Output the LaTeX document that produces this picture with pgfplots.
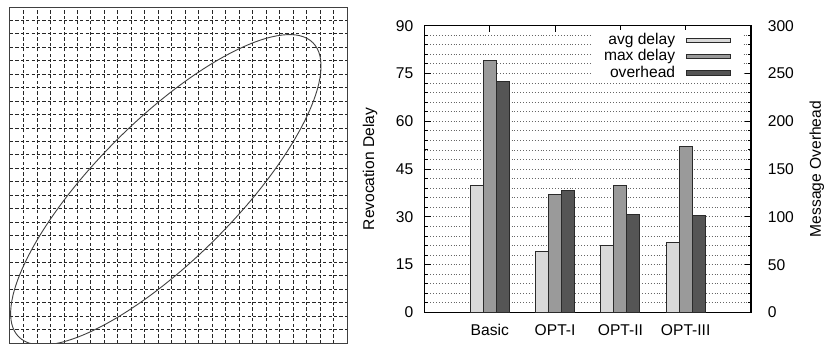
\documentclass[border=0pt]{standalone}
\usepackage{pgfplots}
\pgfplotsset{compat=1.18}
\usepackage{fontspec}
\setmainfont{Liberation Sans}
\newcommand\lfont{\fontsize{7.8}{9}\selectfont}
\definecolor{cavg}{HTML}{D9D9D9}
\definecolor{cmax}{HTML}{9A9A9A}
\definecolor{cov}{HTML}{555555}
\definecolor{cbord}{HTML}{2A2A2A}
\pgfplotsset{
  barimg/.style={legend image code/.code={\path (0pt,0pt); \draw[##1, line width=0.5pt] (5.2pt,-1.1pt) rectangle (27pt,1.1pt);}},
}
\begin{document}
\begin{tikzpicture}
% ---------- left: grid with ellipse ----------
\begin{axis}[
  at={(5pt,0.5pt)}, anchor=south west,
  scale only axis, width=168.5pt, height=168pt,
  xmin=0, xmax=25, ymin=0, ymax=25,
  xtick={1,2,...,24}, ytick={1,2,...,24},
  xticklabels={}, yticklabels={},
  major tick length=0pt,
  grid=major,
  grid style={black!85, line width=0.4pt, dash pattern=on 1.6pt off 1.1pt},
  axis line style={black!75, line width=0.5pt},
]
\draw[black!75, line width=0.45pt, rotate around={45:(axis cs:11.56,11.40)}]
  (axis cs:11.56,11.40) ellipse [x radius=15.43, y radius=5.2];
\end{axis}
% ---------- right: bar chart, delay axis ----------
\begin{axis}[
  at={(212.25pt,15.75pt)}, anchor=south west,
  scale only axis, width=163.25pt, height=143.4pt,
  xmin=0, xmax=5, ymin=0, ymax=90,
  xtick={1,2,3,4}, xticklabels={Basic,OPT-I,OPT-II,OPT-III},
  xtick pos=upper, xticklabel pos=lower,
  ytick={0,15,...,90}, minor y tick num=4,
  ytick pos=both, yticklabel pos=left,
  tick align=inside,
  major tick length=3pt, minor tick length=1.6pt,
  tick style={black, line width=0.5pt},
  ymajorgrids, yminorgrids,
  major grid style={black!60, line width=0.45pt, densely dotted},
  minor grid style={black!60, line width=0.45pt, densely dotted},
  axis line style={black, line width=0.6pt},
  /pgf/number format/assume math mode=true,
  tick label style={font=\lfont},
  yticklabel style={xshift=-2.1pt},
  xticklabel style={yshift=-2.4pt},
  ylabel={Revocation Delay},
  every axis y label/.style={at={(axis description cs:-0.167,0.5)}, rotate=90, anchor=center, font=\lfont},
]
\addplot[ybar, bar width=0.2, bar shift=-0.2, fill=cavg, draw=cbord, line width=0.5pt]
  coordinates {(1,40) (2,19) (3,21) (4,22)};
\addplot[ybar, bar width=0.2, bar shift=0, fill=cmax, draw=cbord, line width=0.5pt]
  coordinates {(1,79) (2,37) (3,40) (4,52)};
\end{axis}
% ---------- right: overhead axis ----------
\begin{axis}[
  at={(212.25pt,15.75pt)}, anchor=south west,
  scale only axis, width=163.25pt, height=143.4pt,
  xmin=0, xmax=5, ymin=0, ymax=300,
  xtick=\empty,
  ytick={0,50,...,300},
  ytick pos=right, yticklabel pos=right,
  tick style={draw=none},
  axis line style={draw=none},
  /pgf/number format/assume math mode=true,
  tick label style={font=\lfont},
  yticklabel style={xshift=4.9pt},
  ylabel={Message Overhead},
  every axis y label/.style={at={(axis description cs:1.202,0.5)}, rotate=90, anchor=center, font=\lfont},
  legend plot pos=right,
  legend cell align=right,
  legend style={at={(axis description cs:0.9725,0.985)}, anchor=north east,
    draw=none, fill=white, inner xsep=5.5pt, inner ysep=1pt,
    nodes={inner sep=0.3pt, text height=5.8pt, text depth=1.7pt, font=\lfont},
    row sep=0pt},
]
\addplot[ybar, bar width=0.2, bar shift=0.2, fill=cov, draw=cbord, line width=0.5pt, forget plot]
  coordinates {(1,242) (2,128) (3,102) (4,101)};
\addlegendimage{barimg, fill=cavg, draw=cbord}
\addlegendentry{avg delay}
\addlegendimage{barimg, fill=cmax, draw=cbord}
\addlegendentry{max delay}
\addlegendimage{barimg, fill=cov, draw=cbord}
\addlegendentry{overhead}
\end{axis}
\pgfresetboundingbox
\useasboundingbox (0,0) rectangle (412.5pt,172pt);
\end{tikzpicture}
\end{document}
